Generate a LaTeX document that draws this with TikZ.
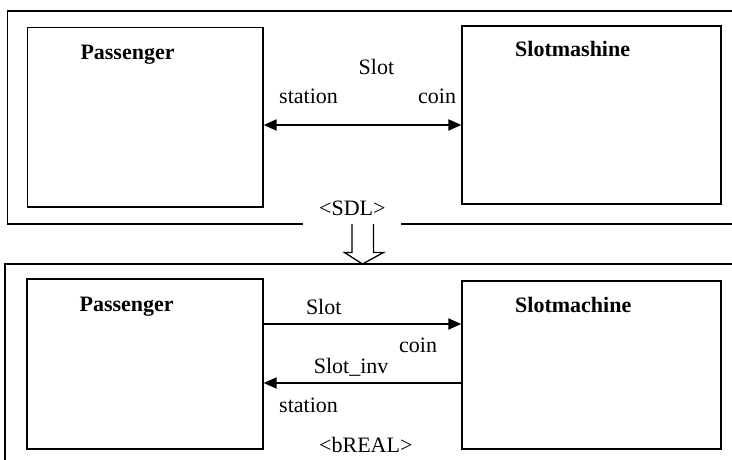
\documentclass[tikz,border=0pt]{standalone}
\usepackage{fontspec}
\setmainfont{Liberation Serif}
\usetikzlibrary{arrows.meta}
\begin{document}
\begin{tikzpicture}[x=1pt,y=-1pt,
  frame/.style={line width=1.3pt},
  unit/.style={draw, line width=1.3pt, rectangle, inner sep=0pt},
  lbl/.style={inner sep=0pt, anchor=base west, font=\fontsize{22pt}{26pt}\selectfont},
  title/.style={lbl, font=\fontsize{22pt}{26pt}\selectfont\bfseries},
  link/.style={line width=2pt, -{Triangle[length=13pt,width=11pt]}},
  dlink/.style={line width=2pt, {Triangle[length=13pt,width=11pt]}-{Triangle[length=13pt,width=11pt]}}]
\useasboundingbox (0,0) rectangle (732,459);

% ---- SDL level ----
\draw[frame] (303,224) -- (7.7,224) -- (7.7,11) -- (740,11);
\draw[frame] (401,224) -- (740,224);

\node[unit, minimum width=235.3pt, minimum height=179.3pt] (pas1) at (145.35,117.35) {};
\node[unit, minimum width=259pt, minimum height=178pt] (slm1) at (591.5,115) {};

\node[title] (pas1t) at (80.3,59) {Passenger};
\node[title] (slm1t) at (515,56.7) {Slotmashine};
\node[lbl] (slot1) at (358.5,74) {Slot};
\node[lbl] (sta1) at (279,103) {station};
\node[lbl] (coin1) at (418,103) {coin};
\node[lbl] (sdl) at (319,215) {<SDL>};

\draw[dlink] (pas1.east |- 0,125) -- (slm1.west |- 0,125);

% ---- transformation arrow ----
\draw[line width=1.3pt, fill=white, line join=miter]
  (352,224) -- (352,252.5) -- (344.5,252.5) -- (362.5,264) -- (383.5,252.5)
  -- (373.5,252.5) -- (373.5,224);

% ---- bREAL level ----
\draw[frame] (5,470) -- (5,264) -- (740,264);

\node[unit, minimum width=236pt, minimum height=170pt] (pas2) at (145,364) {};
\node[unit, minimum width=259pt, minimum height=168pt] (slm2) at (591.5,365) {};

\node[title] (pas2t) at (79.4,311) {Passenger};
\node[title] (slm2t) at (515,312) {Slotmachine};
\node[lbl] (slot2) at (305.8,314) {Slot};
\node[lbl] (coin2) at (399,352) {coin};
\node[lbl] (inv2) at (313.7,373) {Slot\_inv};
\node[lbl] (sta2) at (279,412.7) {station};
\node[lbl] (breal) at (319,452.7) {<bREAL>};

\draw[link] (pas2.east |- 0,324) -- (slm2.west |- 0,324);
\draw[link] (slm2.west |- 0,383) -- (pas2.east |- 0,383);
\end{tikzpicture}
\end{document}
